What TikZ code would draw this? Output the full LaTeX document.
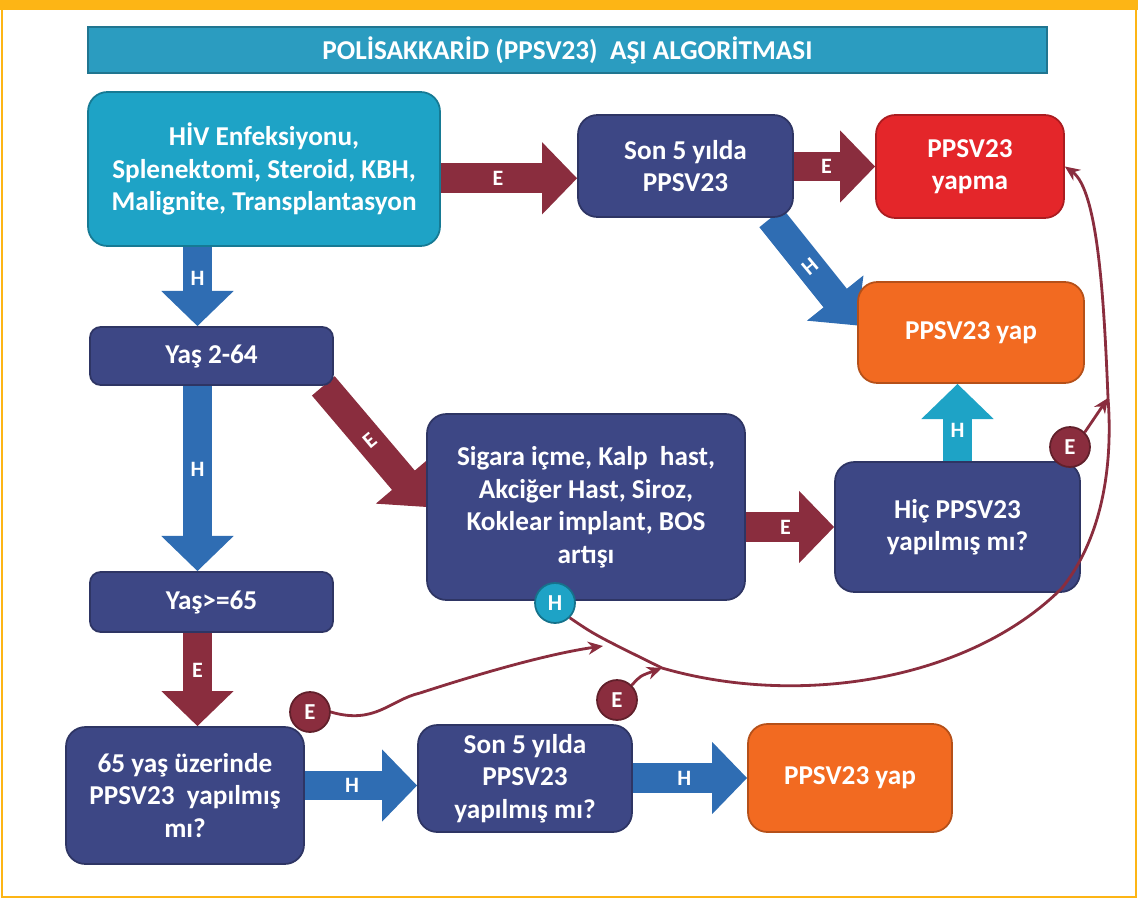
\documentclass[tikz,border=0pt]{standalone}
\usepackage{fontspec}
\setmainfont{Carlito}
\usepackage{tikz}
\usetikzlibrary{arrows.meta,positioning}
\definecolor{navyc}{HTML}{3D4785}
\definecolor{marc}{HTML}{8A2D3E}
\definecolor{bluec}{HTML}{2F6DB3}
\definecolor{tealc}{HTML}{1EA3C6}
\definecolor{titc}{HTML}{2B9CC0}
\definecolor{orc}{HTML}{F26A21}
\definecolor{redc}{HTML}{E4262A}
\definecolor{framec}{HTML}{FDB515}
\pgfdeclarelayer{bg}
\pgfsetlayers{bg,main}
\tikzset{
  box/.style={fill=#1,draw=#1!75!black,line width=1pt,rounded corners=11pt,text=white,align=center,
    font=\bfseries\fontsize{15.5}{18.5}\selectfont,inner sep=2pt},
  fat/.style={line width=17pt,-{Triangle[length=20pt,width=40pt]}},
  fatE/.style={fat,draw=marc},
  fatH/.style={fat,draw=bluec},
  lab/.style={text=white,font=\bfseries\fontsize{12.5}{12.5}\selectfont},
  badge/.style={circle,fill=#1,draw=#1!70!black,line width=1pt,minimum size=0.8cm,inner sep=0pt,
    text=white,font=\bfseries\fontsize{13}{13}\selectfont},
  lnk/.style={marc,line width=1.6pt,-{Stealth[length=3mm,width=2.6mm]}}
}
\begin{document}
\begin{tikzpicture}[x=0.02cm,y=-0.02cm]
\useasboundingbox (0,0) rectangle (1138,899);
% frame
\draw[framec,line width=1.5pt] (2,2) rectangle (1136,897);
\fill[framec] (0,0) rectangle (1138,10);
% title
\node[box=titc,rounded corners=0pt,minimum width=19.18cm,minimum height=0.92cm,
  font=\bfseries\fontsize{15.5}{15.5}\selectfont] (ttl) at (567.5,50) {POLİSAKKARİD (PPSV23)\ \ AŞI ALGORİTMASI};
% boxes
\node[box=tealc,minimum width=7.04cm,minimum height=3.08cm] (hiv) at (264,169)
  {HİV Enfeksiyonu,\\Splenektomi, Steroid, KBH,\\Malignite, Transplantasyon};
\node[box=navyc,minimum width=4.3cm,minimum height=2.04cm] (sonA) at (685.5,166) {Son 5 yılda\\PPSV23};
\node[box=redc,minimum width=3.76cm,minimum height=2.06cm] (yapma) at (970,166.5) {PPSV23\\yapma};
\node[box=orc,minimum width=4.52cm,minimum height=2.02cm] (yapA) at (971,332.5) {PPSV23 yap};
\node[box=navyc,minimum width=4.86cm,minimum height=1.16cm,rounded corners=6pt] (yas264) at (211.5,356) {Yaş 2-64};
\node[box=navyc,minimum width=6.36cm,minimum height=3.72cm] (sigara) at (586,507)
  {Sigara içme, Kalp\ \ hast,\\Akciğer Hast, Siroz,\\Koklear implant, BOS\\artışı};
\node[box=navyc,minimum width=4.9cm,minimum height=2.6cm] (hic) at (957.5,527) {Hiç PPSV23\\yapılmış mı?};
\node[box=navyc,minimum width=4.86cm,minimum height=1.2cm,rounded corners=6pt] (yas65) at (211.5,602) {Yaş>=65};
\node[box=navyc,minimum width=4.76cm,minimum height=2.74cm] (ust65) at (185,795.5)
  {65 yaş üzerinde\\PPSV23\ \ yapılmış\\mı?};
\node[box=navyc,minimum width=4.28cm,minimum height=2.14cm] (sonB) at (525,778.5) {Son 5 yılda\\PPSV23\\yapılmış mı?};
\node[box=orc,minimum width=4.08cm,minimum height=2.16cm] (yapB) at (850,778) {PPSV23 yap};
% block arrows
\begin{pgfonlayer}{bg}
\draw[fatE] ([yshift=-7pt]sonA.west -| hiv.east) -- ([yshift=-7pt]sonA.west) node[lab,pos=0.42]{E};
\draw[fatE] (sonA.east |- yapma.west) -- (yapma.west) node[lab,pos=0.4]{E};
\draw[fatH] ([xshift=-13pt]sonA.south east) -- ([yshift=4pt]yapA.west) node[lab,pos=0.45,rotate=40]{H};
\draw[fatH] ([xshift=-8pt]yas264.north |- hiv.south) -- ([xshift=-8pt]yas264.north) node[lab,pos=0.4]{H};
\draw[fatH] ([xshift=-8pt]yas264.south) -- ([xshift=-8pt]yas65.north) node[lab,pos=0.45]{H};
\draw[fatE] ([xshift=-6pt]yas264.south east) -- (sigara.west) node[lab,pos=0.45,rotate=40]{E};
\draw[fatE] (sigara.east |- hic.west) -- (hic.west) node[lab,pos=0.45]{E};
\draw[draw=tealc,fat] (hic.north) -- (hic.north |- yapA.south) node[lab,pos=0.4]{H};
\draw[fatE] ([xshift=-8pt]yas65.south) -- ([xshift=-8pt]yas65.south |- ust65.north) node[lab,pos=0.4]{E};
\draw[fatH] ([yshift=-4pt]sonB.west -| ust65.east) -- ([yshift=-4pt]sonB.west) node[lab,pos=0.42]{H};
\draw[fatH] (sonB.east |- yapB.west) -- (yapB.west) node[lab,pos=0.45]{H};
\end{pgfonlayer}
% badges
\node[badge=marc] (e65) at (310,712) {E};
\node[badge=marc] (eSon) at (617,700) {E};
\node[badge=tealc] (hSig) at (555,603) {H};
\node[badge=marc] (eHic) at (1070,447) {E};
% joins
\coordinate (m1) at (603,646);
\coordinate (jn) at (662,668);
\coordinate (jn2) at (1108,398);
\draw[marc,line width=1.6pt] (hSig.south east) .. controls (595,635) .. (jn)
  .. controls (800,708) and (970,680) .. (1062,588) .. controls (1108,530) and (1112,450) .. (jn2);
\draw[lnk] (jn2) .. controls (1104,300) and (1098,190) .. (yapma.east);
\draw[lnk] (e65.east) .. controls (375,725) and (390,700) .. (420,693) .. controls (460,680) and (540,655) .. (m1);
\draw[lnk] (eSon.north east) .. controls (640,676) .. (jn);
\draw[lnk] (eHic.north east) -- (jn2);
\end{tikzpicture}
\end{document}
